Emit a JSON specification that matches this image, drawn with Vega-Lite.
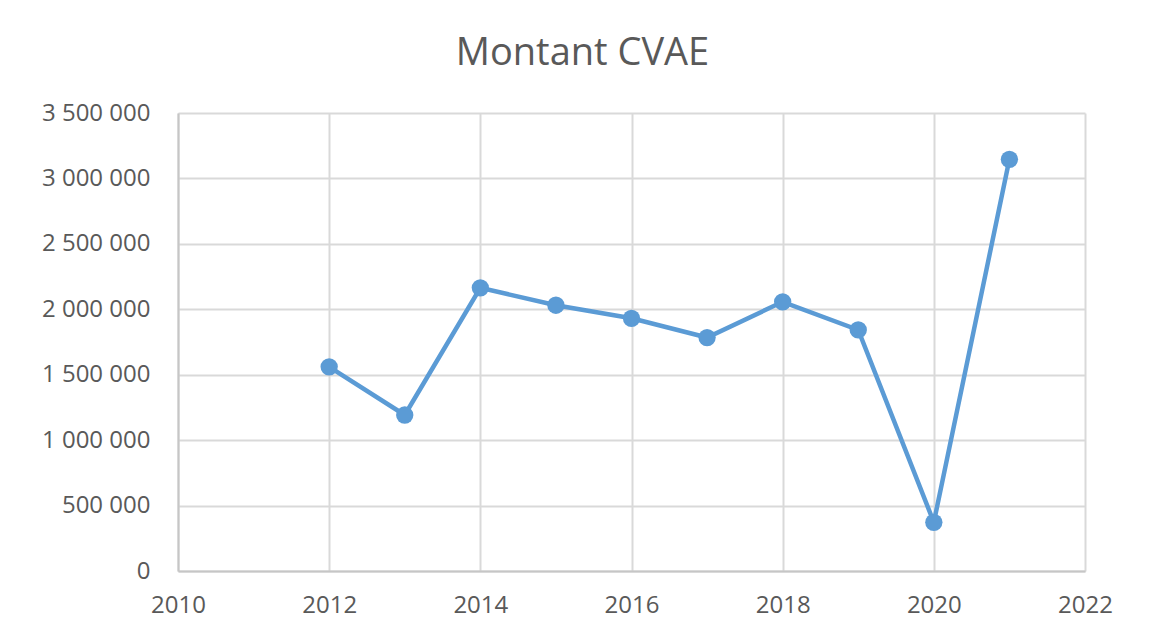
{
  "$schema": "https://vega.github.io/schema/vega-lite/v6.json",
  "width": 907,
  "height": 458,
  "autosize": "none",
  "padding": {"left": 178, "top": 113, "right": 73, "bottom": 66},
  "background": "white",
  "title": {
    "text": "Montant CVAE",
    "font": "Open Sans",
    "fontSize": 38,
    "fontWeight": "normal",
    "color": "#595959",
    "anchor": "middle",
    "baseline": "alphabetic",
    "dx": -49,
    "offset": -2
  },
  "data": {
    "values": [
      {"annee": 2012, "montant": 1560000},
      {"annee": 2013, "montant": 1192000},
      {"annee": 2014, "montant": 2164000},
      {"annee": 2015, "montant": 2031000},
      {"annee": 2016, "montant": 1931000},
      {"annee": 2017, "montant": 1784000},
      {"annee": 2018, "montant": 2057000},
      {"annee": 2019, "montant": 1842000},
      {"annee": 2020, "montant": 372000},
      {"annee": 2021, "montant": 3146000}
    ]
  },
  "mark": {
    "type": "line",
    "color": "#5b9bd5",
    "strokeWidth": 4.5,
    "point": {"filled": true, "size": 300, "color": "#5b9bd5", "opacity": 1}
  },
  "encoding": {
    "x": {
      "field": "annee",
      "type": "quantitative",
      "scale": {"domain": [2010, 2022], "nice": false, "zero": false},
      "axis": {
        "title": null,
        "values": [2010, 2012, 2014, 2016, 2018, 2020, 2022],
        "format": "d",
        "grid": true,
        "ticks": false,
        "labelPadding": 22,
        "labelFlush": false
      }
    },
    "y": {
      "field": "montant",
      "type": "quantitative",
      "scale": {"domain": [0, 3500000], "nice": false},
      "axis": {
        "title": null,
        "values": [0, 500000, 1000000, 1500000, 2000000, 2500000, 3000000, 3500000],
        "format": ",d",
        "grid": true,
        "ticks": false,
        "labelPadding": 28
      }
    }
  },
  "config": {
    "locale": {
      "number": {"decimal": ",", "thousands": " ", "grouping": [3], "currency": ["", " €"]}
    },
    "view": {"stroke": null},
    "axis": {
      "labelFont": "Open Sans",
      "labelFontSize": 24,
      "labelColor": "#595959",
      "gridColor": "#d9d9d9",
      "gridWidth": 2,
      "domainColor": "#c6c6c6",
      "domainWidth": 2
    }
  }
}
